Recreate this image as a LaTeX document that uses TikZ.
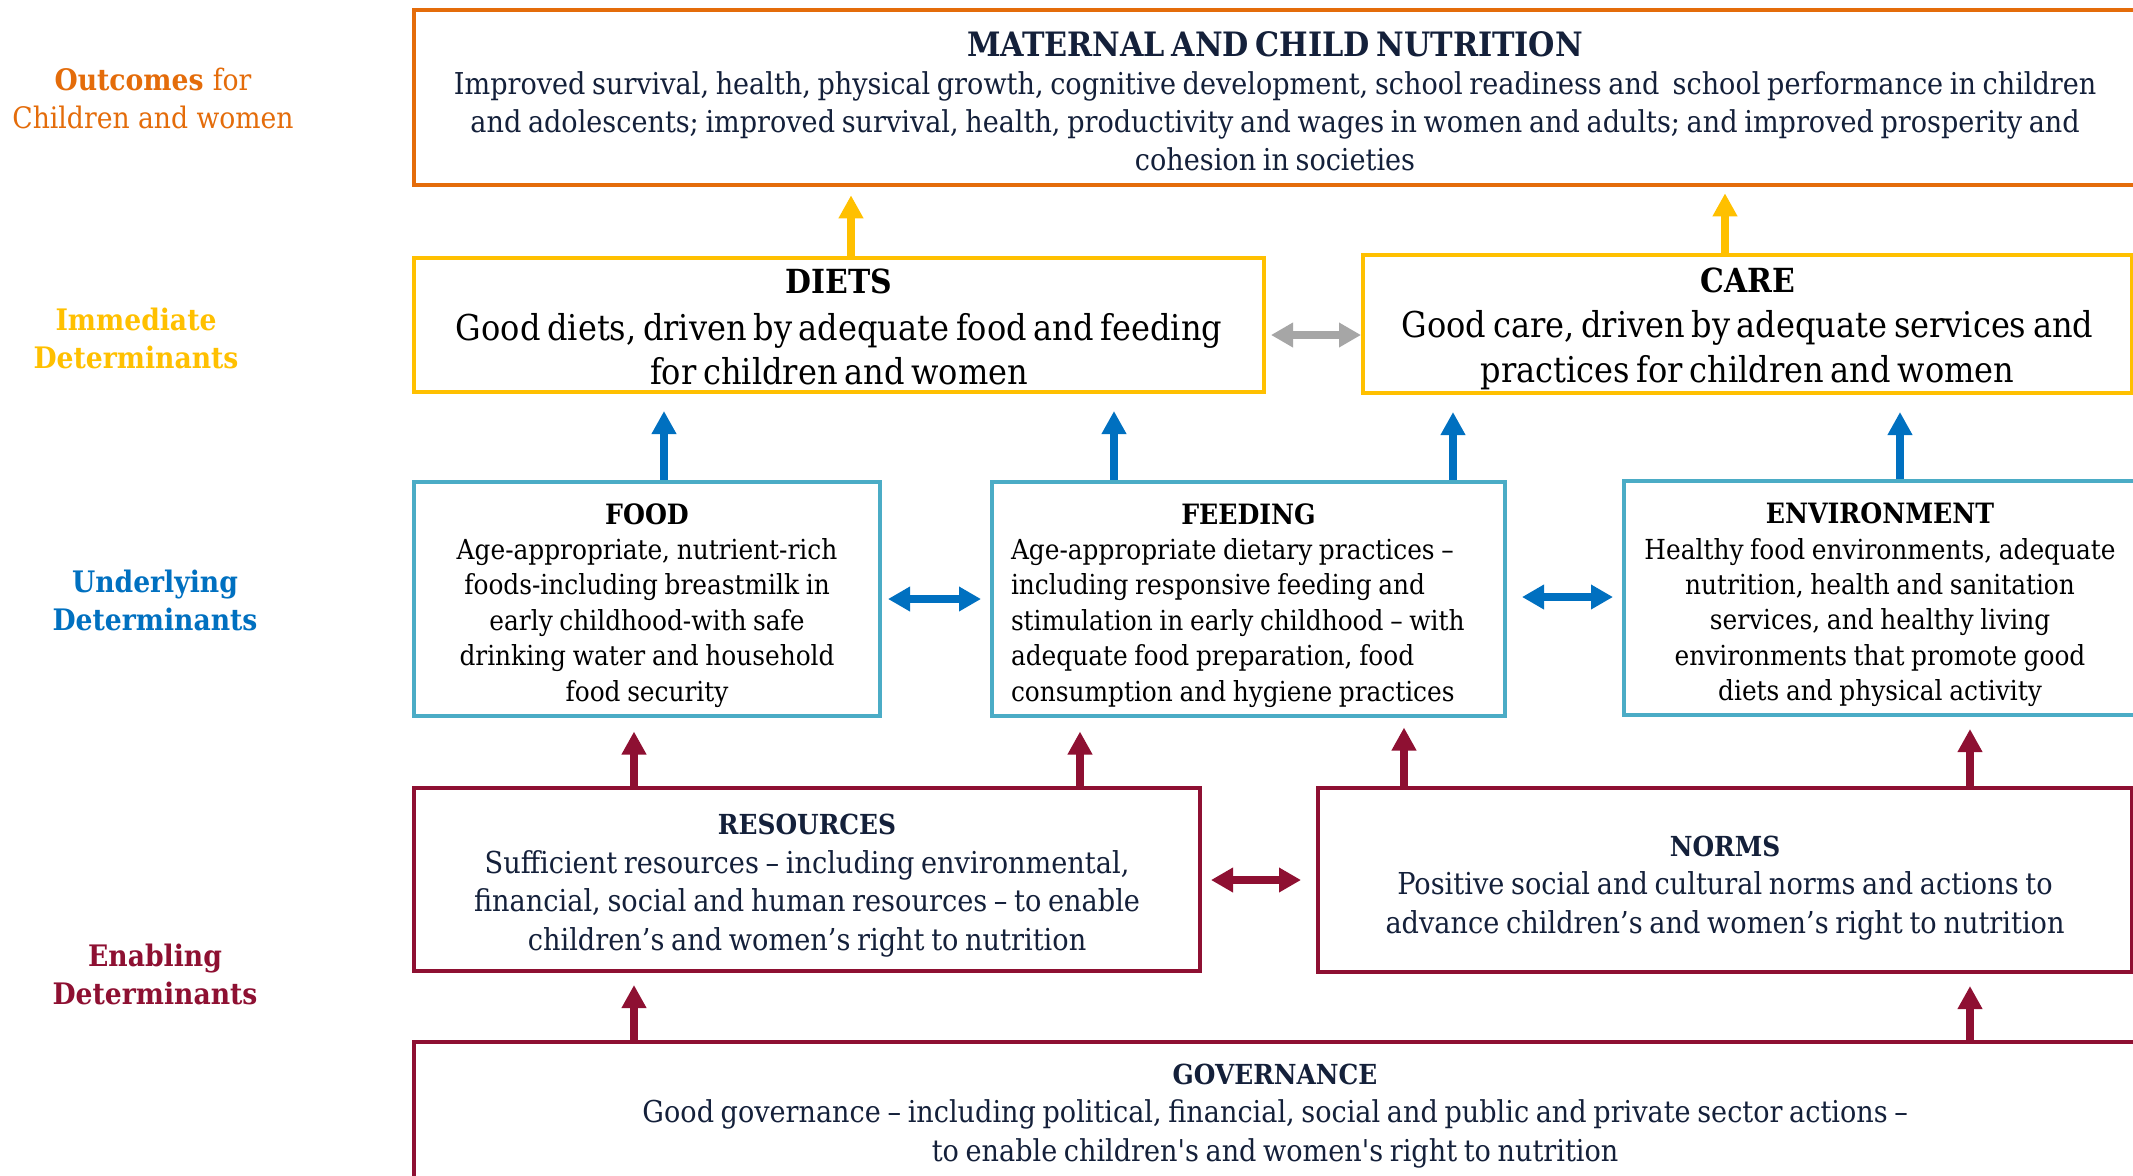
\documentclass[tikz,border=0pt]{standalone}
\usepackage{fontspec}
\setmainfont{DejaVu Serif Condensed}
\usetikzlibrary{arrows.meta}
\definecolor{cOrange}{HTML}{E46C0A}
\definecolor{cYellow}{HTML}{FFC000}
\definecolor{cBlue}{HTML}{0070C0}
\definecolor{cLBlue}{HTML}{4BACC6}
\definecolor{cRed}{HTML}{8E1032}
\definecolor{cGray}{HTML}{A6A6A6}
\definecolor{cNavy}{HTML}{14203A}
\begin{document}
\begin{tikzpicture}[x=0.5pt,y=-0.5pt,
  box/.style={draw, line width=2pt, inner sep=0pt, align=center},
  obox/.style={box, draw=cOrange, line width=2.3pt},
  ybox/.style={box, draw=cYellow, text=black},
  bbox/.style={box, draw=cLBlue, text=black},
  rbox/.style={box, draw=cRed, text=cNavy},
  lbl/.style={align=center, inner sep=0pt, font=\fontsize{14.8}{19}\selectfont\bfseries},
  uparr/.style={line width=3.8pt, -{Triangle[width=11.7pt,length=11.5pt]}},
  dblarr/.style={line width=4pt, {Triangle[width=11.7pt,length=11pt]}-{Triangle[width=11.7pt,length=11pt]}},
]
\useasboundingbox (0,0) rectangle (2133,1175);
\fill[white] (0,0) rectangle (2133,1175);
\clip (0,0) rectangle (2133,1175);

% left labels
\node[lbl, text=cOrange] (lout) at (153,98) {Outcomes \mdseries for\\ \mdseries Children and women};
\node[lbl, text=cYellow] (limm) at (136,338) {Immediate\\ Determinants};
\node[lbl, text=cBlue] (lund) at (155,600) {Underlying\\ Determinants};
\node[lbl, text=cRed] (lena) at (155,974) {Enabling\\ Determinants};

% boxes
\node[obox, text=cNavy, minimum width=861pt, minimum height=87.5pt, text width=855pt] (mcn) at (1275,97.5)
 {{\fontsize{16.8}{20}\selectfont\bfseries MATERNAL AND CHILD NUTRITION\par}
  \fontsize{15.05}{19}\selectfont Improved survival, health, physical growth, cognitive development, school readiness and\ \ school performance in children\\
  and adolescents; improved survival, health, productivity and wages in women and adults; and improved prosperity and\\
  cohesion in societies\par\vspace{-3.4pt}};

\node[ybox, minimum width=425pt, minimum height=67pt, text width=420pt] (diets) at (839,325)
 {{\fontsize{16.6}{20}\selectfont\bfseries DIETS\par}\vspace{1pt}
  \fontsize{17.8}{22.2}\selectfont Good diets, driven by adequate food and feeding\\ for children and women\par\vspace{-2pt}};

\node[ybox, minimum width=384.5pt, minimum height=69pt, text width=380pt] (care) at (1747.5,324)
 {{\fontsize{16.6}{20}\selectfont\bfseries CARE\par}\vspace{0.5pt}
  \fontsize{17.8}{22.2}\selectfont Good care, driven by adequate services and\\ practices for children and women\par\vspace{-4.8pt}};

\node[bbox, minimum width=233pt, minimum height=117pt, text width=228pt] (food) at (647,598.5)
 {{\fontsize{14}{17.7}\selectfont\bfseries FOOD\par}
  \fontsize{13.8}{17.7}\selectfont Age-appropriate, nutrient-rich\\ foods-including breastmilk in\\ early childhood-with safe\\ drinking water and household\\ food security\par\vspace{-6.8pt}};

\node[bbox, align=left, minimum width=256.5pt, minimum height=117pt, text width=237.5pt] (feeding) at (1248.5,598.5)
 {{\centering\fontsize{14}{17.7}\selectfont\bfseries FEEDING\par}
  \fontsize{13.8}{17.7}\selectfont Age-appropriate dietary practices –\\ including responsive feeding and\\ stimulation in early childhood – with\\ adequate food preparation, food\\ consumption and hygiene practices\par\vspace{-6.8pt}};

\node[bbox, minimum width=256pt, minimum height=117pt, text width=251pt] (env) at (1880,598)
 {{\fontsize{14}{17.7}\selectfont\bfseries ENVIRONMENT\par}
  \fontsize{13.8}{17.7}\selectfont Healthy food environments, adequate\\ nutrition, health and sanitation\\ services, and healthy living\\ environments that promote good\\ diets and physical activity\par\vspace{-6.8pt}};

\node[rbox, minimum width=393pt, minimum height=91.5pt, text width=388pt] (res) at (807,879.5)
 {{\fontsize{13.8}{18}\selectfont\bfseries RESOURCES\par}
  \fontsize{15.1}{19.3}\selectfont Sufficient resources – including environmental,\\ financial, social and human resources – to enable\\ children’s and women’s right to nutrition\par\vspace{-6.1pt}};

\node[rbox, minimum width=407pt, minimum height=92pt, text width=402pt] (norms) at (1725,880)
 {{\fontsize{13.8}{18}\selectfont\bfseries NORMS\par}
  \fontsize{15.1}{19.3}\selectfont Positive social and cultural norms and actions to\\ advance children’s and women’s right to nutrition\par\vspace{-8pt}};

\node[rbox, minimum width=861pt, minimum height=68.5pt, text width=855pt] (gov) at (1275,1110.5)
 {{\fontsize{13.8}{18}\selectfont\bfseries GOVERNANCE\par}
  \fontsize{15.05}{19.3}\selectfont Good governance – including political, financial, social and public and private sector actions –\\ to enable children\textquotesingle s and women\textquotesingle s right to nutrition\par\vspace{-5.4pt}};

% x positions of vertical arrows
\coordinate (xy1) at (851,0);
\coordinate (xy2) at (1725,0);
\coordinate (xb1) at (664,0);
\coordinate (xb2) at (1114,0);
\coordinate (xb3) at (1453,0);
\coordinate (xb4) at (1900,0);
\coordinate (xr1) at (634,0);
\coordinate (xr2) at (1080,0);
\coordinate (xr3) at (1404,0);
\coordinate (xr4) at (1970,0);
% y positions of horizontal arrows
\coordinate (yg) at (0,335);
\coordinate (yb1) at (0,599);
\coordinate (yb2) at (0,597);
\coordinate (yr) at (0,880);

% yellow arrows
\draw[uparr, draw=cYellow, shorten >=4pt] (diets.north -| xy1) -- (mcn.south -| xy1);
\draw[uparr, draw=cYellow, shorten >=3pt] (care.north -| xy2) -- (mcn.south -| xy2);
% blue arrows
\draw[uparr, draw=cBlue, shorten >=8.5pt] (food.north -| xb1) -- (diets.south -| xb1);
\draw[uparr, draw=cBlue, shorten >=8.5pt] (feeding.north -| xb2) -- (diets.south -| xb2);
\draw[uparr, draw=cBlue, shorten >=8.5pt] (feeding.north -| xb3) -- (care.south -| xb3);
\draw[uparr, draw=cBlue, shorten >=8.5pt] (env.north -| xb4) -- (care.south -| xb4);
% red arrows
\draw[uparr, draw=cRed, shorten >=7pt] (res.north -| xr1) -- (food.south -| xr1);
\draw[uparr, draw=cRed, shorten >=7pt] (res.north -| xr2) -- (feeding.south -| xr2);
\draw[uparr, draw=cRed, shorten >=5pt] (norms.north -| xr3) -- (feeding.south -| xr3);
\draw[uparr, draw=cRed, shorten >=6pt] (norms.north -| xr4) -- (env.south -| xr4);
\draw[uparr, draw=cRed, shorten >=6pt] (gov.north -| xr1) -- (res.south -| xr1);
\draw[uparr, draw=cRed, shorten >=6pt] (gov.north -| xr4) -- (norms.south -| xr4);
% double arrows
\draw[dblarr, draw=cGray, shorten <=2.5pt] (diets.east |- yg) -- (care.west |- yg);
\draw[dblarr, draw=cBlue, shorten <=3pt, shorten >=4.5pt] (food.east |- yb1) -- (feeding.west |- yb1);
\draw[dblarr, draw=cBlue, shorten <=7.5pt, shorten >=4.5pt] (feeding.east |- yb2) -- (env.west |- yb2);
\draw[dblarr, draw=cRed, shorten <=4.5pt, shorten >=7.5pt] (res.east |- yr) -- (norms.west |- yr);
\end{tikzpicture}
\end{document}
